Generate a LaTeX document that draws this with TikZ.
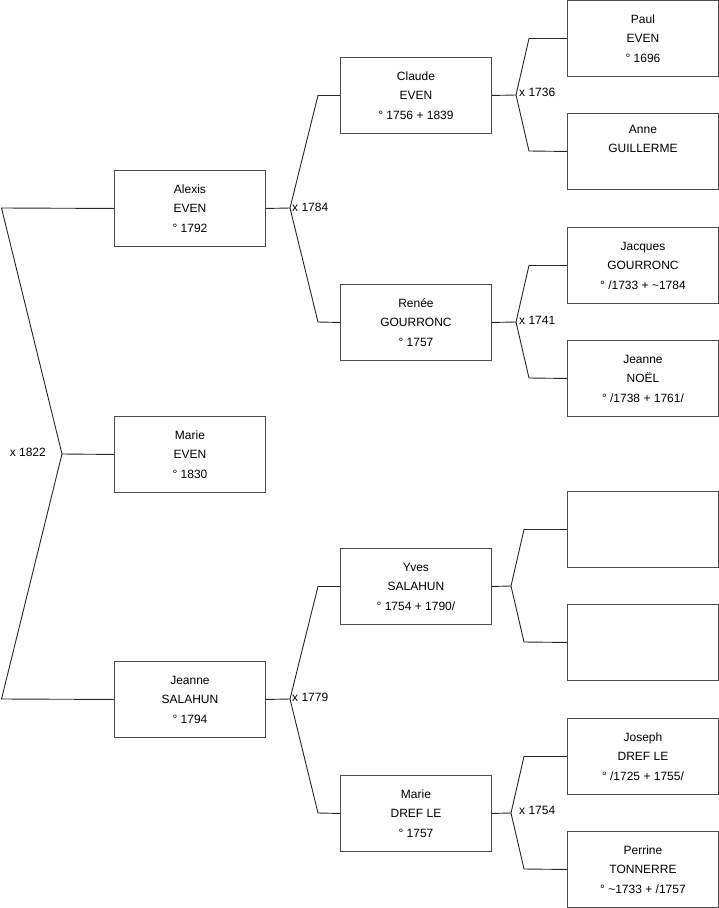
\documentclass[tikz,border=0pt]{standalone}
\usepackage{fontspec}
\setmainfont{Liberation Sans}
\begin{document}
\begin{tikzpicture}[x=1pt,y=-1pt,
  person/.style={draw=black!70, line width=0.9pt, fill=white, minimum width=151pt, minimum height=76pt,
    inner sep=0pt, align=center, font=\fontsize{12}{19.5}\selectfont, anchor=north west},
  link/.style={draw=black!85, line width=0.9pt, line join=miter},
  mlabel/.style={font=\fontsize{12}{14}\selectfont, inner sep=0pt}]
\useasboundingbox (0,0) rectangle (719,908);
% level 1
\node[person] (alexis) at (114,170) {Alexis\\EVEN\\° 1792};
\node[person] (marie) at (114,416) {Marie\\EVEN\\° 1830};
\node[person] (jeanne) at (114,661) {Jeanne\\SALAHUN\\° 1794};
% level 2
\node[person] (claude) at (340,57) {Claude\\EVEN\\° 1756 + 1839};
\node[person] (renee) at (340,284) {Renée\\GOURRONC\\° 1757};
\node[person] (yves) at (340,548) {Yves\\SALAHUN\\° 1754 + 1790/};
\node[person] (mdref) at (340,775) {Marie\\DREF LE\\° 1757};
% level 3
\node[person] (paul) at (567,0) {Paul\\EVEN\\° 1696};
\node[person] (anne) at (567,113) {Anne\\GUILLERME\\\strut};
\node[person] (jacques) at (567,227) {Jacques\\GOURRONC\\° /1733 + \textasciitilde1784};
\node[person] (jnoel) at (567,340) {Jeanne\\NOËL\\° /1738 + 1761/};
\node[person] (e1) at (567,491) {};
\node[person] (e2) at (567,604) {};
\node[person] (joseph) at (567,718) {Joseph\\DREF LE\\° /1725 + 1755/};
\node[person] (perrine) at (567,831) {Perrine\\TONNERRE\\° \textasciitilde1733 + /1757};
% root connectors
\coordinate (r1) at (1.5,208);
\coordinate (r2) at (62,454);
\coordinate (r3) at (1.5,699);
\draw[link] (alexis.west) -- (r1) -- (r2) -- (r3) -- (jeanne.west);
\draw[link] (r2) -- (marie.west);
\node[mlabel, anchor=east] (l1822) at (46,452) {x 1822};
% Alexis parents
\coordinate (j1) at (290,208);
\draw[link] (alexis.east) -- (j1);
\draw[link] (claude.west) -- ++(-22,0) -- (j1) -- (318,322) -- (renee.west);
\node[mlabel, anchor=west] (l1784) at (292,207) {x 1784};
% Jeanne parents
\coordinate (j2) at (290,699);
\draw[link] (jeanne.east) -- (j2);
\draw[link] (yves.west) -- ++(-22,0) -- (j2) -- (318,813) -- (mdref.west);
\node[mlabel, anchor=west] (l1779) at (292,697) {x 1779};
% Claude parents
\coordinate (j3) at (516,95);
\draw[link] (claude.east) -- (j3);
\draw[link] (paul.west) -- ++(-38,0) -- (j3) -- (529,151) -- (anne.west);
\node[mlabel, anchor=west] (l1736) at (519,92) {x 1736};
% Renee parents
\coordinate (j4) at (516,322);
\draw[link] (renee.east) -- (j4);
\draw[link] (jacques.west) -- ++(-38,0) -- (j4) -- (529,378) -- (jnoel.west);
\node[mlabel, anchor=west] (l1741) at (519,320) {x 1741};
% Yves parents
\coordinate (j5) at (511,586);
\draw[link] (yves.east) -- (j5);
\draw[link] (e1.west) -- ++(-43,0) -- (j5) -- (524,642) -- (e2.west);
% Marie DREF LE parents
\coordinate (j6) at (511,813);
\draw[link] (mdref.east) -- (j6);
\draw[link] (joseph.west) -- ++(-43,0) -- (j6) -- (524,869) -- (perrine.west);
\node[mlabel, anchor=west] (l1754) at (519,810) {x 1754};
\end{tikzpicture}
\end{document}
